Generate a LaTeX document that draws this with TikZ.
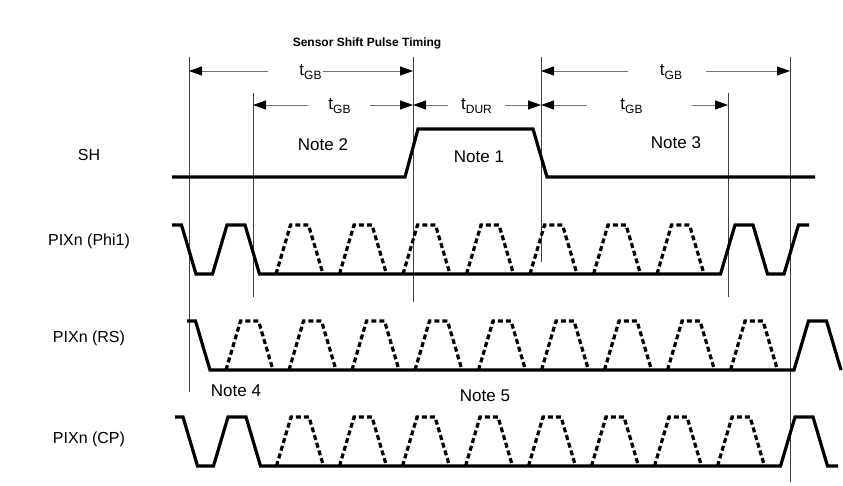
\documentclass[tikz,border=0pt]{standalone}
\usepackage{fontspec}
\setmainfont{Liberation Sans}
\usetikzlibrary{arrows.meta}
\def\pulse[#1](#2,#3){\draw[#1] (#2-23.5,#3) -- (#2-9,#3-49) -- (#2+9,#3-49) -- (#2+23.5,#3);}
\def\tsub#1{t{\fontsize{12}{14}\selectfont\raisebox{-4pt}{#1}}}

\tikzset{
	wave/.style={line width=3.2pt},
	dwave/.style={line width=3.2pt, dash pattern=on 5pt off 3pt},
	guide/.style={line width=0.8pt, color=black!75},
	dim/.style={line width=0.9pt, color=black!55, -{Triangle[length=13pt,width=9pt,color=black]}},
	lbl/.style={font=\fontsize{17}{20}\selectfont, inner sep=0pt},
	rowlbl/.style={font=\fontsize{16}{19}\selectfont, inner sep=0pt},
	dimlbl/.style={lbl, text height=13pt, text depth=3pt}
}

\begin{document}
\begin{tikzpicture}[x=1pt,y=-1pt]
		%%%%% START %%%%%
		\useasboundingbox (0,0) rectangle (843,486);
		
		\node[font=\fontsize{12}{14}\selectfont\bfseries] (title) at (367,43) {Sensor Shift Pulse Timing};
		
		\node[rowlbl] (sh) at (89,155) {SH};
		\node[rowlbl] (phi) at (89,241) {PIXn (Phi1)};
		\node[rowlbl] (rs) at (89,338) {PIXn (RS)};
		\node[rowlbl] (cp) at (89,439) {PIXn (CP)};
		
		\coordinate (v1) at (189,57);  \coordinate (v1e) at (189,392);
		\coordinate (v2) at (253,93);  \coordinate (v2e) at (253,297);
		\coordinate (v3) at (413,57);  \coordinate (v3e) at (413,302);
		\coordinate (v4) at (541,57);  \coordinate (v4e) at (541,262);
		\coordinate (v5) at (728,93);  \coordinate (v5e) at (728,297);
		\coordinate (v6) at (790,57);  \coordinate (v6e) at (790,482);
		\draw[guide] (v1) -- (v1e);
		\draw[guide] (v2) -- (v2e);
		\draw[guide] (v3) -- (v3e);
		\draw[guide] (v4) -- (v4e);
		\draw[guide] (v5) -- (v5e);
		\draw[guide] (v6) -- (v6e);
		
		% guard band and duration marks
		\node[dimlbl] (gbA) at (310.5,71) {\tsub{GB}};
		\draw[dim] ([xshift=-42.5pt]gbA.center) -- (gbA -| v1);
		\draw[dim] ([xshift=12pt]gbA.center) -- (gbA -| v3);
		
		\node[dimlbl] (gbB) at (339.5,105) {\tsub{GB}};
		\draw[dim] ([xshift=-31.5pt]gbB.center) -- (gbB -| v2);
		\draw[dim] ([xshift=30.5pt]gbB.center) -- (gbB -| v3);
		
		\node[dimlbl] (dur) at (476.5,105) {\tsub{DUR}};
		\draw[dim] ([xshift=-28.5pt]dur.center) -- (dur -| v3);
		\draw[dim] ([xshift=28.5pt]dur.center) -- (dur -| v4);
		
		\node[dimlbl] (gbC) at (631.5,105) {\tsub{GB}};
		\draw[dim] ([xshift=-44.5pt]gbC.center) -- (gbC -| v4);
		\draw[dim] ([xshift=60.5pt]gbC.center) -- (gbC -| v5);
		
		\node[dimlbl] (gbD) at (671,71) {\tsub{GB}};
		\draw[dim] ([xshift=-43pt]gbD.center) -- (gbD -| v4);
		\draw[dim] ([xshift=35pt]gbD.center) -- (gbD -| v6);
		
		% notes
		\node[lbl] (n1) at (479,157) {Note 1};
		\node[lbl] (n2) at (323,145) {Note 2};
		\node[lbl] (n3) at (676,143) {Note 3};
		\node[lbl] (n4) at (236,391) {Note 4};
		\node[lbl] (n5) at (485,396) {Note 5};
		
		% SH
		\draw[wave] (172,177) -- (405,177) -- (418,129) -- (533,129) -- (547,177) -- (815,177);
		
		% Phi1
		\draw[wave] (172,225) -- (181.5,225) -- (196,274) -- (212.5,274) -- (227,225) -- (245,225) -- (259.5,274)
			-- (720.5,274) -- (735,225) -- (753,225) -- (767.5,274) -- (784,274) -- (798.5,225) -- (809,225);
		\pulse[dwave](299.5,274)
		\pulse[dwave](363,274)
		\pulse[dwave](426.5,274)
		\pulse[dwave](490,274)
		\pulse[dwave](553.5,274)
		\pulse[dwave](617,274)
		\pulse[dwave](680.5,274)
		
		% RS
		\draw[wave] (187,321) -- (195.5,321) -- (210,370) -- (794,370) -- (808.5,321) -- (826.5,321) -- (841,370);
		\pulse[dwave](249.5,370)
		\pulse[dwave](312.5,370)
		\pulse[dwave](375.5,370)
		\pulse[dwave](438.5,370)
		\pulse[dwave](502,370)
		\pulse[dwave](565,370)
		\pulse[dwave](628,370)
		\pulse[dwave](691,370)
		\pulse[dwave](754,370)
		
		% CP
		\draw[wave] (175,417) -- (183,417) -- (197.5,466) -- (213.5,466) -- (228,417) -- (246,417) -- (260.5,466)
			-- (780.5,466) -- (795,417) -- (813,417) -- (827.5,466) -- (838,466);
		\pulse[dwave](300,466)
		\pulse[dwave](363,466)
		\pulse[dwave](426,466)
		\pulse[dwave](489,466)
		\pulse[dwave](552,466)
		\pulse[dwave](615,466)
		\pulse[dwave](678,466)
		\pulse[dwave](741,466)
		
		%%%%% END %%%%%
	\end{tikzpicture}
\end{document}
